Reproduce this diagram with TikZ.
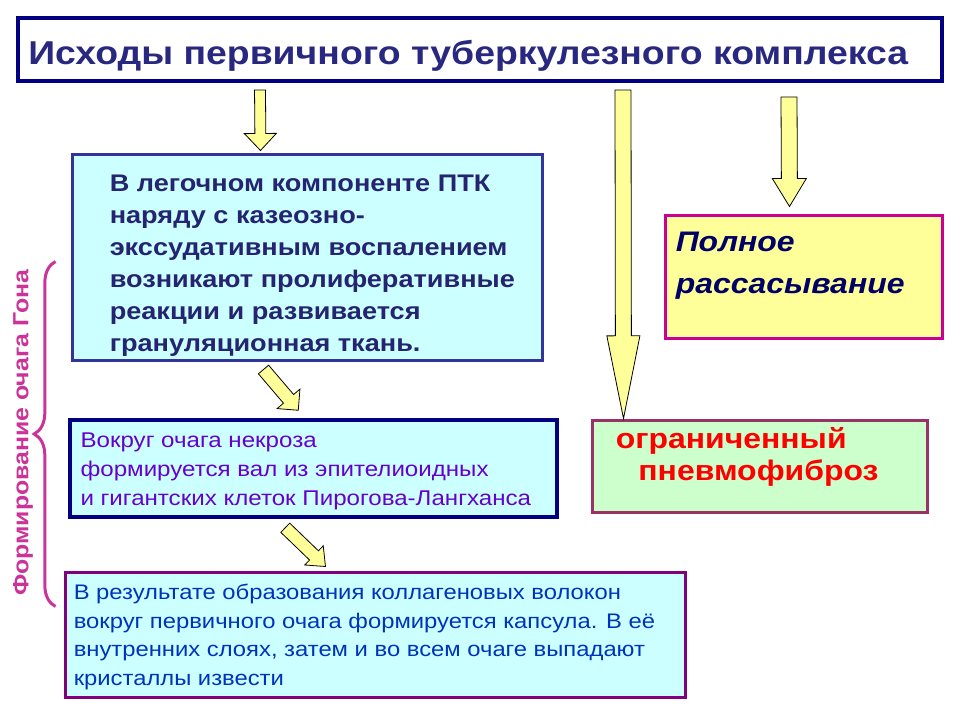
\documentclass[tikz,border=0pt]{standalone}
\usepackage{fontspec}
\setmainfont{Liberation Sans}[FakeStretch=1.13]
\usetikzlibrary{calc,decorations.pathreplacing}

\definecolor{titleblue}{RGB}{40,40,128}
\definecolor{navyline}{RGB}{0,0,128}
\definecolor{ptkblue}{RGB}{51,51,153}
\definecolor{ptktext}{RGB}{36,36,112}
\definecolor{resorptext}{RGB}{0,0,102}
\definecolor{lightcyan}{RGB}{204,255,255}
\definecolor{lightyel}{RGB}{255,255,153}
\definecolor{lightgreen}{RGB}{204,255,204}
\definecolor{resorpline}{RGB}{204,0,153}
\definecolor{fibrline}{RGB}{153,51,102}
\definecolor{capsline}{RGB}{128,0,128}
\definecolor{gonatext}{RGB}{102,0,204}
\definecolor{capstext}{RGB}{0,51,187}
\definecolor{gonapink}{RGB}{204,51,153}

\tikzset{
  box/.style={draw,rectangle,inner sep=0pt},
  txt/.style={inner sep=0pt,anchor=base west},
  yellowarrow/.style={draw=black,line width=0.6pt,fill=lightyel,line join=miter},
}

% block arrow: start, tip, half shaft, half head, head length
\newcommand{\fatarrow}[5]{%
  \coordinate (fa-h) at ($(#2)!#5!(#1)$);
  \draw[yellowarrow] ($(#1)!#3!90:(#2)$) -- ($(fa-h)!#3!90:(#2)$) -- ($(fa-h)!#4!90:(#2)$)
    -- (#2) -- ($(fa-h)!#4!-90:(#2)$) -- ($(fa-h)!#3!-90:(#2)$) -- ($(#1)!#3!-90:(#2)$) -- cycle;
}
\newcommand{\lines}[1]{\begin{tabular}[t]{@{}l@{}}#1\end{tabular}}

\begin{document}
\begin{tikzpicture}[x=0.75pt,y=-0.75pt]
\useasboundingbox (0,0) rectangle (960,720);

% boxes
\node[box,draw=navyline,line width=3pt,fill=white,minimum width=693pt,minimum height=47.25pt] (title) at (480,49.5) {};
\node[box,draw=ptkblue,line width=2.25pt,fill=lightcyan,minimum width=352.5pt,minimum height=153.75pt] (ptk) at (307,257.5) {};
\node[box,draw=resorpline,line width=2.25pt,fill=lightyel,minimum width=207.75pt,minimum height=91.5pt] (resorp) at (803.5,277) {};
\node[box,draw=fibrline,line width=2.25pt,fill=lightgreen,minimum width=251.25pt,minimum height=69pt] (fibr) at (759.5,466) {};
\node[box,draw=navyline,line width=2.6pt,fill=lightcyan,minimum width=365.25pt,minimum height=72.75pt] (gona) at (313.5,468.5) {};
\node[box,draw=capsline,line width=2.25pt,fill=lightcyan,minimum width=465pt,minimum height=93.75pt] (caps) at (375,634.5) {};

% texts
\node[txt,text=titleblue,font=\fontsize{24.8}{29}\selectfont\bfseries] (title-t) at ($(title.south west)+(12,-18)$)
  {Исходы первичного туберкулезного комплекса};
\node[txt,text=ptktext,font=\fontsize{18}{24}\selectfont\bfseries] (ptk-t) at ($(ptk.north west)+(39,38)$)
  {\lines{В легочном компоненте ПТК\\наряду с казеозно-\\экссудативным воспалением\\возникают пролиферативные\\реакции и развивается\\грануляционная ткань.}};
\node[txt,text=resorptext,font=\fontsize{21.2}{31.5}\selectfont\bfseries\itshape] (resorp-t) at ($(resorp.north west)+(12,37)$)
  {\lines{Полное\\рассасывание}};
\node[txt,text=red,font=\fontsize{21.2}{24}\selectfont\bfseries] (fibr-t) at ($(fibr.north west)+(25,30)$)
  {\lines{ограниченный\\\hspace*{17pt}пневмофиброз}};
\node[txt,text=gonatext,font=\fontsize{16}{21.75}\selectfont] (gona-t) at ($(gona.north west)+(12,29)$)
  {\lines{Вокруг очага некроза\\формируется вал из эпителиоидных\\и гигантских клеток Пирогова-Лангханса}};
\node[txt,text=capstext,font=\fontsize{15.8}{21.4}\selectfont] (caps-t) at ($(caps.north west)+(10,29)$)
  {\lines{В результате образования коллагеновых волокон\\вокруг первичного очага формируется капсула. В её\\внутренних слоях, затем и во всем очаге выпадают\\кристаллы извести}};

% brace
\coordinate (br-top) at ($(ptk.north west)+(-15,108)$);
\coordinate (br-bot) at ($(caps.north west)+(-8,36)$);
\draw[gonapink,line width=2.25pt,decorate,decoration={brace,amplitude=16pt}] (br-bot) -- (br-top);
\node[text=gonapink,font=\fontsize{16.5}{20}\selectfont\bfseries,rotate=90] (br-lbl) at (23,433) {Формирование очага Гона};

% arrows
\coordinate (a1-s) at ($(title.south west)+(244,7)$);
\coordinate (a1-e) at ($(ptk.north west)+(190,-3)$);
\coordinate (a2-s) at ($(title.south west)+(607,7)$);
\coordinate (a2-e) at ($(fibr.north west)+(33,0)$);
\coordinate (a3-s) at ($(title.south west)+(773,14)$);
\coordinate (a3-e) at ($(resorp.north west)+(126,-8)$);
\coordinate (a4-s) at ($(ptk.south west)+(193,8)$);
\coordinate (a4-e) at ($(gona.north west)+(230,-8)$);
\coordinate (a5-s) at ($(gona.south west)+(217,9)$);
\coordinate (a5-e) at ($(caps.north west)+(262,-4)$);
\fatarrow{a1-s}{a1-e}{4.1pt}{12pt}{12.75pt}
\fatarrow{a2-s}{a2-e}{6pt}{12.4pt}{62pt}
\fatarrow{a3-s}{a3-e}{6pt}{12.75pt}{21pt}
\fatarrow{a4-s}{a4-e}{5pt}{11.25pt}{11.25pt}
\fatarrow{a5-s}{a5-e}{4.8pt}{10pt}{12pt}
\end{tikzpicture}
\end{document}
